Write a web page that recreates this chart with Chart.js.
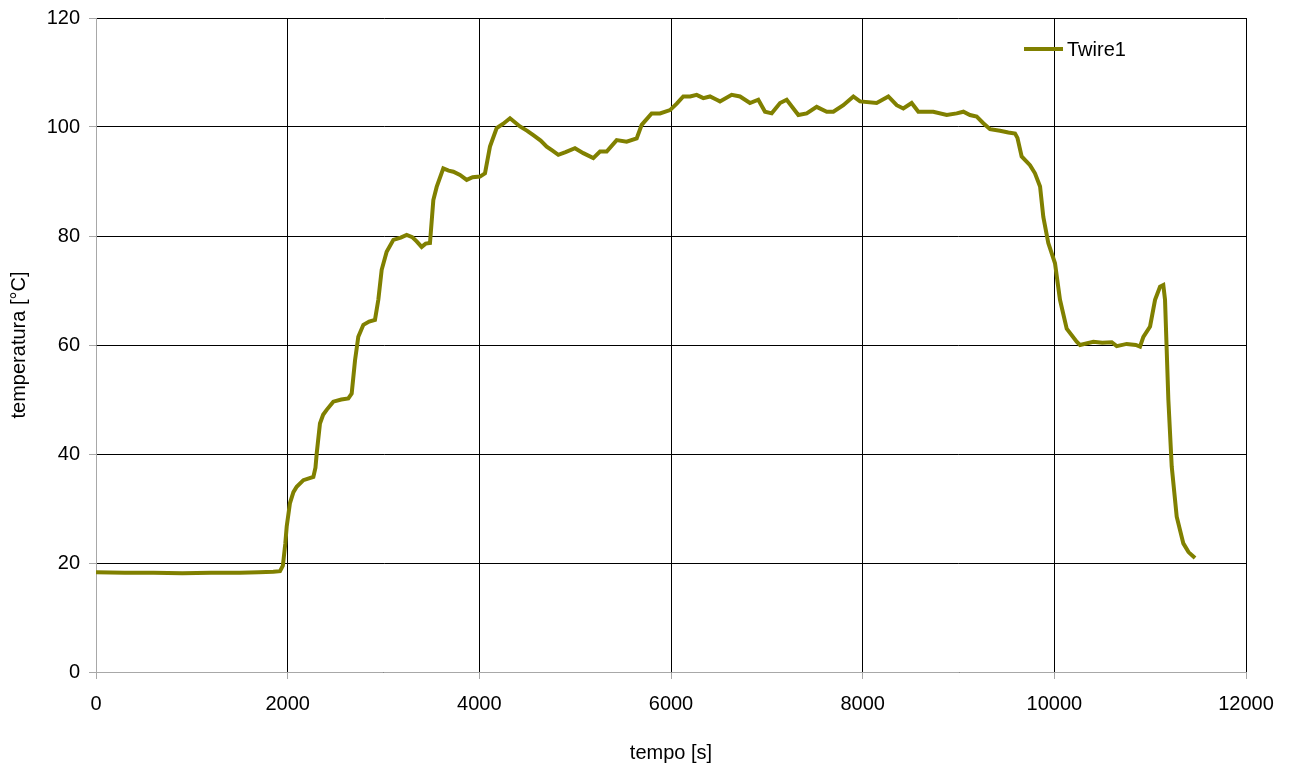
<!DOCTYPE html>
<html>
<head>
<meta charset="utf-8">
<script src="https://cdn.jsdelivr.net/npm/chart.js@4/dist/chart.umd.min.js"></script>
<style>
html,body{margin:0;padding:0;background:#fff;}
#wrap{width:1292px;height:767px;position:relative;}
</style>
</head>
<body>
<div id="wrap"><canvas id="c" width="1292" height="767"></canvas></div>
<script>
const seriesName = "Twire1";
const xTitle = "tempo [s]";
const yTitle = "temperatura [°C]";
const timeSec = [0,300,600,900,1200,1500,1700,1850,1920,1950,1975,1990,2024,2060,2094,2164,2268,2290,2303,2337,2370,2407,2476,2560,2633,2668,2703,2737,2790,2850,2911,2946,2981,3033,3103,3180,3242,3300,3346,3398,3440,3485,3520,3555,3624,3680,3729,3798,3868,3930,4007,4059,4111,4181,4250,4320,4424,4500,4563,4640,4703,4760,4824,4900,4998,5085,5189,5259,5329,5433,5537,5642,5694,5798,5885,5990,6060,6128,6200,6268,6337,6407,6477,6511,6633,6720,6824,6911,6981,7051,7138,7207,7329,7416,7520,7625,7694,7798,7903,7972,8146,8268,8355,8424,8511,8581,8737,8877,8981,9051,9120,9190,9259,9329,9433,9520,9590,9615,9659,9746,9798,9851,9885,9937,10007,10059,10129,10233,10268,10407,10500,10599,10651,10755,10850,10894,10929,10999,11051,11103,11137,11155,11190,11225,11277,11346,11400,11468];
const tempC = [18.3,18.2,18.2,18.1,18.2,18.2,18.3,18.4,18.5,19.5,23.5,26.7,31.0,33.0,34.0,35.2,35.8,37.5,40.1,45.6,47.2,48.1,49.6,50.0,50.2,51.1,57.2,61.5,63.7,64.3,64.6,68.3,73.8,77.1,79.3,79.7,80.2,79.8,79.0,78.0,78.6,78.7,86.6,89.0,92.4,92.0,91.8,91.2,90.3,90.8,90.9,91.5,96.4,99.8,100.6,101.6,100.1,99.3,98.5,97.5,96.4,95.7,94.9,95.4,96.1,95.2,94.3,95.5,95.5,97.6,97.3,97.9,100.4,102.5,102.5,103.1,104.3,105.6,105.6,105.9,105.3,105.6,105.0,104.7,105.9,105.6,104.4,105.0,102.8,102.5,104.4,105.0,102.2,102.5,103.7,102.8,102.8,104.0,105.6,104.7,104.4,105.6,104.0,103.4,104.4,102.8,102.8,102.2,102.5,102.8,102.2,101.9,100.7,99.6,99.3,99.0,98.8,98.0,94.6,93.0,91.5,89.1,83.5,78.7,75.0,68.3,63.0,60.6,60.0,60.6,60.4,60.5,59.8,60.2,60.0,59.7,61.5,63.4,68.3,70.7,71.0,68.3,49.9,37.7,28.5,23.6,22.0,20.9];
const xTicks = [0,2000,4000,6000,8000,10000,12000];
const yTicks = [0,20,40,60,80,100,120];

const lineColor = '#808000';
const fontFam = '"Liberation Sans", Arial, sans-serif';

const points = timeSec.map((t,i)=>({x:t,y:tempC[i]}));

const legendPlugin = {
  id:'customLegend',
  afterDraw(chart){
    const ctx = chart.ctx;
    const ds = chart.data.datasets[0];
    ctx.save();
    ctx.strokeStyle = ds.borderColor;
    ctx.lineWidth = 4;
    ctx.beginPath();
    ctx.moveTo(1024,49);
    ctx.lineTo(1063,49);
    ctx.stroke();
    ctx.fillStyle = '#000';
    ctx.font = '20px ' + fontFam;
    ctx.textBaseline = 'middle';
    ctx.textAlign = 'left';
    ctx.fillText(ds.label, 1067, 50);
    ctx.restore();
  }
};

new Chart(document.getElementById('c'), {
  type:'line',
  data:{datasets:[{label:seriesName,data:points,borderColor:lineColor,backgroundColor:lineColor,borderWidth:4,pointRadius:0,tension:0,fill:false}]},
  options:{
    responsive:false,
    animation:false,
    layout:{padding:{top:18,right:46,left:0,bottom:0}},
    plugins:{legend:{display:false},tooltip:{enabled:false}},
    scales:{
      x:{
        type:'linear',min:0,max:12000,
        afterBuildTicks(s){s.ticks = xTicks.map(v=>({value:v}));},
        afterFit(s){s.height = 95;},
        ticks:{callback:v=>String(v),color:'#000',font:{family:fontFam,size:20},padding:13,maxRotation:0,autoSkip:false},
        grid:{color:'#000',lineWidth:1,tickLength:7,tickColor:'#a8a8a8'},
        border:{color:'#a8a8a8',width:1},
        title:{display:true,text:xTitle,color:'#000',font:{family:fontFam,size:20},padding:{top:0,bottom:2}}
      },
      y:{
        min:0,max:120,
        afterBuildTicks(s){s.ticks = yTicks.map(v=>({value:v}));},
        afterFit(s){s.width = 96; s.paddingTop = 0; s.paddingBottom = 0;},
        ticks:{callback:v=>String(v),color:'#000',font:{family:fontFam,size:20},padding:9},
        grid:{color:'#000',lineWidth:1,tickLength:7,tickColor:'#a8a8a8'},
        border:{color:'#a8a8a8',width:1},
        title:{display:true,text:yTitle,color:'#000',font:{family:fontFam,size:20},padding:{top:7,bottom:0}}
      }
    }
  },
  plugins:[legendPlugin]
});
</script>
</body>
</html>
